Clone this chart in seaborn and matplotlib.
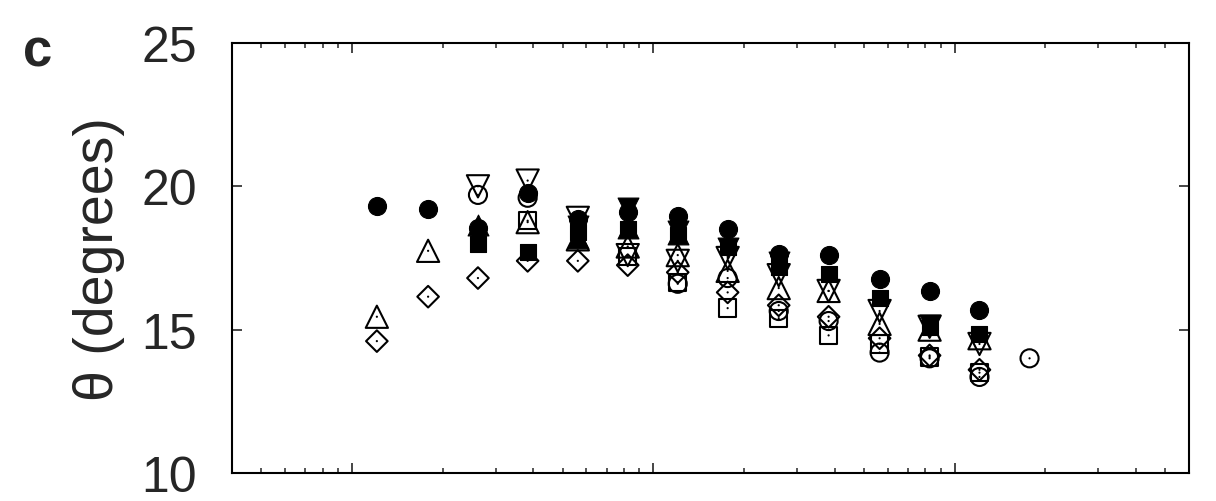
import numpy as np
import pandas as pd
import matplotlib
matplotlib.use("Agg")
import matplotlib.pyplot as plt
import seaborn as sns
from matplotlib.ticker import LogLocator, NullFormatter

nan = np.nan

# x positions of the data columns (log axis)
x_vals = [12.1, 17.9, 26.2, 38.3, 56.2, 82.3, 120.6, 176.6, 260.9, 382, 564, 826.5, 1210, 1774]

# theta values (degrees) for each marker series
filled_circle = [19.3, 19.2, 18.55, 19.75, 18.85, 19.1, 18.95, 18.5, 17.65, 17.6, 16.75, 16.35, 15.7, nan]
filled_square = [nan, nan, 18.0, 17.7, 18.4, 18.5, 18.3, 17.9, 17.2, 16.95, 16.1, 15.1, 14.85, nan]
filled_tri_up = [nan, nan, 18.65, nan, 18.2, 18.55, 18.35, nan, nan, nan, nan, nan, nan, nan]
filled_tri_down = [nan, nan, nan, nan, 18.6, 19.25, 18.45, 17.85, 17.35, nan, nan, 15.15, nan, nan]
open_tri_up = [15.45, 17.75, nan, 18.75, 18.15, 17.9, 17.6, 17.05, 16.45, 16.35, 15.2, 15.0, 14.7, nan]
open_tri_down = [nan, nan, 20.0, 20.2, 18.9, 17.6, 17.4, 17.5, 16.9, 16.35, 15.65, 15.1, 14.5, nan]
open_circle = [nan, nan, 19.7, 19.6, nan, nan, 16.6, 16.8, 15.65, 15.3, 14.2, 14.0, 13.35, 14.0]
open_square = [nan, nan, nan, 18.8, nan, 17.55, 16.65, 15.75, 15.4, 14.8, 14.5, 14.05, 13.5, nan]
open_diamond = [14.6, 16.15, 16.8, 17.4, 17.4, 17.25, 17.0, 16.3, 15.85, 15.45, 14.7, 14.1, 13.6, nan]

y_ticks = [10, 15, 20, 25]

# (values, marker, size in points, filled)
series = [
    (open_diamond, "D", 11.0, False),
    (open_square, "s", 12.5, False),
    (open_circle, "o", 13.0, False),
    (open_tri_down, "v", 16.0, False),
    (open_tri_up, "^", 16.0, False),
    (filled_tri_up, "^", 15.0, True),
    (filled_tri_down, "v", 15.0, True),
    (filled_square, "s", 11.5, True),
    (filled_circle, "o", 13.0, True),
]

sns.set_style("ticks")
plt.rcParams["font.family"] = ["Liberation Sans", "DejaVu Sans"]

fig = plt.figure(figsize=(12.16, 5.02), dpi=100)
ax = fig.add_axes([0.1908, 0.0558, 0.787, 0.8566])

for vals, marker, ms, filled in series:
    df = pd.DataFrame({"x": x_vals, "y": vals}).dropna()
    if filled:
        sns.scatterplot(data=df, x="x", y="y", marker=marker, s=ms ** 2,
                        color="black", edgecolor="black", linewidth=0.8,
                        ax=ax, zorder=3)
    else:
        sns.scatterplot(data=df, x="x", y="y", marker=marker, s=ms ** 2,
                        color="black", facecolor="none", edgecolor="black",
                        linewidth=1.5, ax=ax, zorder=3)
        # small dot in the middle of open symbols
        sns.scatterplot(data=df, x="x", y="y", marker="o", s=2.5,
                        color="black", edgecolor="none", ax=ax, zorder=4)

ax.set_xscale("log")
ax.set_xlim(4, 6000)
ax.set_ylim(10, 25)
ax.set_yticks(y_ticks)
ax.xaxis.set_major_locator(LogLocator(base=10, numticks=10))
ax.xaxis.set_minor_locator(LogLocator(base=10, subs=np.arange(2, 10), numticks=20))
ax.xaxis.set_major_formatter(NullFormatter())
ax.xaxis.set_minor_formatter(NullFormatter())

ax.tick_params(which="major", direction="in", length=7.5, width=1.2,
               top=True, right=True, labelsize=36, pad=25)
ax.tick_params(which="minor", direction="in", length=3.8, width=1.1,
               top=True, right=True)
ax.tick_params(axis="y", which="minor", left=False, right=False)
for sp in ax.spines.values():
    sp.set_linewidth(1.5)
    sp.set_color("black")

ax.set_xlabel("")
ax.set_ylabel("θ (degrees)", fontsize=40)
ax.yaxis.set_label_coords(-0.112, 0.5)

fig.text(0.031, 0.868, "c", fontsize=38, fontweight="bold", ha="center", va="baseline")

fig.savefig("out.png", dpi=100)
